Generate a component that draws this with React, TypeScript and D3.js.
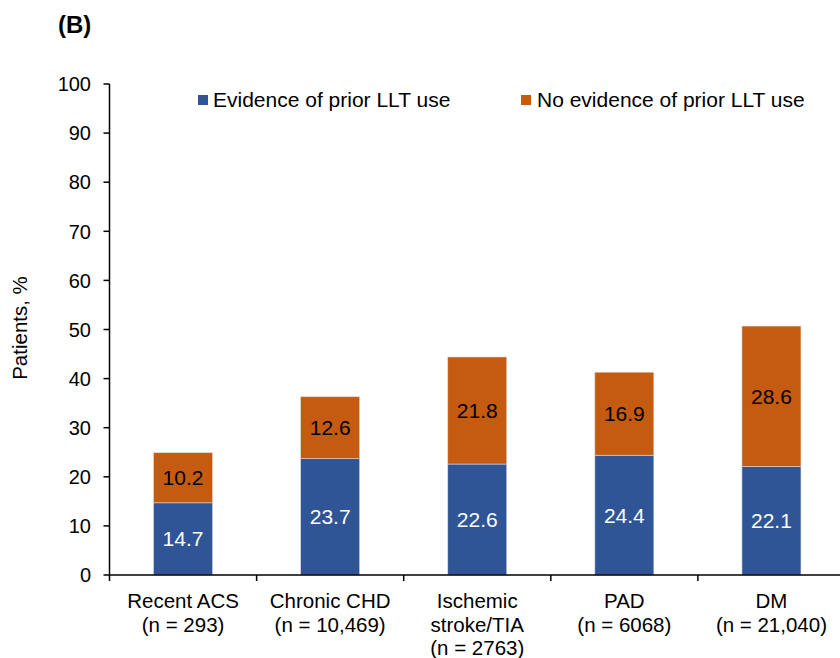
import React from "react";
import * as d3 from "d3";

const categories = ["Recent ACS", "Chronic CHD", "Ischemic stroke/TIA", "PAD", "DM"];
const categoryLines = [
  ["Recent ACS", "(n = 293)"],
  ["Chronic CHD", "(n = 10,469)"],
  ["Ischemic", "stroke/TIA", "(n = 2763)"],
  ["PAD", "(n = 6068)"],
  ["DM", "(n = 21,040)"],
];
const evidenceValues = [14.7, 23.7, 22.6, 24.4, 22.1];
const noEvidenceValues = [10.2, 12.6, 21.8, 16.9, 28.6];
const yTicks = [0, 10, 20, 30, 40, 50, 60, 70, 80, 90, 100];
const seriesNames = ["Evidence of prior LLT use", "No evidence of prior LLT use"];

const BLUE = "#2F5597";
const ORANGE = "#C55A11";
const FONT = "'Liberation Sans', Arial, sans-serif";

export default function App() {
  const W = 840, H = 658;
  const x0 = 109.5, x1 = 845;
  const y = d3.scaleLinear().domain([0, 100]).range([575, 84]);
  const x = d3.scaleBand().domain(categories).range([x0, x1]).paddingInner(0).paddingOuter(0);
  const bw = 59;

  const rows = categories.map((c, i) => ({ c, a: evidenceValues[i], b: noEvidenceValues[i] }));
  const stack = d3.stack<any>().keys(["a", "b"])(rows as any);

  return (
    <svg width={W} height={H} style={{ position: "absolute", left: 0, top: 0, fontFamily: FONT }}>
      <rect width={W} height={H} fill="#fff" />
      <text x={58} y={33} fontSize={24} fontWeight="bold" fill="#000">(B)</text>
      {/* y axis title */}
      <text transform={`translate(27,328) rotate(-90)`} textAnchor="middle" fontSize={20.5} fill="#000">Patients, %</text>
      {/* bars */}
      {stack.map((s, si) => (
        <g key={si}>
          {s.map((d: any, i: number) => {
            const cx = (x(categories[i]) as number) + x.bandwidth() / 2;
            const top = y(d[1]), bot = y(d[0]);
            const val = si === 0 ? evidenceValues[i] : noEvidenceValues[i];
            return (
              <g key={i}>
                <rect x={cx - bw / 2} y={top} width={bw} height={bot - top} fill={si === 0 ? BLUE : ORANGE} stroke="#d9d9d9" strokeWidth={0.6} />
                <text x={cx} y={(top + bot) / 2} dy="0.36em" textAnchor="middle" fontSize={21} fill={si === 0 ? "#fff" : "#000"}>
                  {val.toFixed(1)}
                </text>
              </g>
            );
          })}
        </g>
      ))}
      {/* y axis */}
      <line x1={x0} x2={x0} y1={y(100)} y2={y(0)} stroke="#000" strokeWidth={1.5} />
      {yTicks.map((t) => (
        <g key={t}>
          <line x1={x0 - 6} x2={x0} y1={y(t)} y2={y(t)} stroke="#000" strokeWidth={1.5} />
          <text x={91} y={y(t)} dy="0.36em" textAnchor="end" fontSize={20} fill="#000">{t}</text>
        </g>
      ))}
      {/* x axis */}
      <line x1={x0} x2={W} y1={y(0)} y2={y(0)} stroke="#000" strokeWidth={1.5} />
      {categories.map((c, i) => (
        <line key={c} x1={x(c) as number} x2={x(c) as number} y1={y(0)} y2={y(0) + 6} stroke="#000" strokeWidth={1.5} />
      ))}
      {categoryLines.map((lines, i) => {
        const cx = (x(categories[i]) as number) + x.bandwidth() / 2;
        return (
          <text key={i} textAnchor="middle" fontSize={20.5} fill="#000">
            {lines.map((l, j) => (
              <tspan key={j} x={cx} y={608 + j * 23.5}>{l}</tspan>
            ))}
          </text>
        );
      })}
      {/* legend */}
      <rect x={198} y={95} width={10} height={10} fill={BLUE} />
      <text x={213} y={107} fontSize={21} fill="#000">{seriesNames[0]}</text>
      <rect x={521} y={95} width={10} height={10} fill={ORANGE} />
      <text x={537} y={107} fontSize={21} fill="#000">{seriesNames[1]}</text>
    </svg>
  );
}
